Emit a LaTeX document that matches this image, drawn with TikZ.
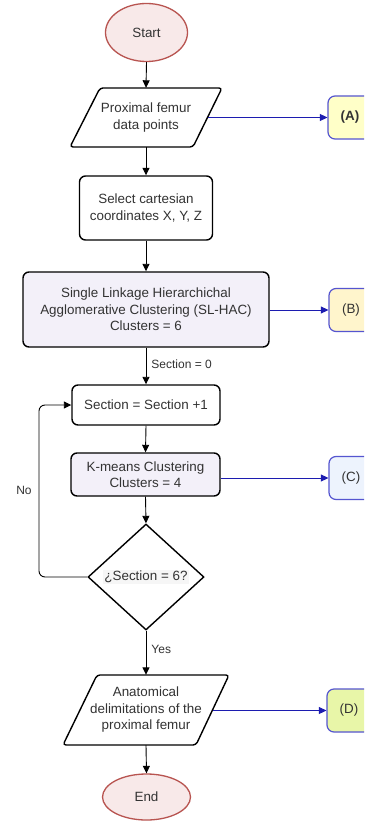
\documentclass[tikz,border=0pt]{standalone}
\usepackage{fontspec}
\setmainfont{Liberation Sans}
\usetikzlibrary{shapes.geometric,arrows.meta}
\definecolor{txt}{HTML}{333333}
\definecolor{pinkfill}{HTML}{F8E9E9}
\definecolor{redline}{HTML}{B85450}
\definecolor{lav}{HTML}{F3F0F9}
\definecolor{afill}{HTML}{FFFFC8}
\definecolor{bfill}{HTML}{FFF5CC}
\definecolor{cfill}{HTML}{EDF3FD}
\definecolor{dfill}{HTML}{E8F6A8}
\definecolor{bborder}{HTML}{5555D0}
\definecolor{bline}{HTML}{1C1CB0}
\tikzset{
  every node/.style={text=txt, font=\fontsize{13.4}{16.5}\selectfont, align=center, inner sep=0pt},
  term/.style={ellipse, draw=redline, fill=pinkfill, line width=1.3pt},
  proc/.style={rectangle, rounded corners=6pt, draw=black, line width=1.4pt, fill=white},
  procl/.style={proc, fill=lav},
  io/.style={draw=none},
  iopath/.style={draw=black, line width=1.4pt, fill=white, rounded corners=3pt},
  dec/.style={diamond, draw=black, line width=1.4pt, fill=white},
  side/.style={rectangle, rounded corners=7pt, draw=bborder, line width=1.2pt, minimum width=44pt, minimum height=43pt},
  flow/.style={draw=black, line width=0.9pt, -{Triangle[length=7.5pt,width=7pt]}},
  bflow/.style={draw=bline, line width=0.9pt, -{Triangle[length=7.5pt,width=7pt]}},
  lbl/.style={font=\fontsize{12}{14}\selectfont}
}
\begin{document}
\begin{tikzpicture}[x=1pt,y=-1pt]
\clip (0,0) rectangle (364,821);
\fill[white] (0,0) rectangle (364,821);
% start
\node[term, minimum width=82pt, minimum height=58pt] (start) at (146.5,32.5) {Start};
% input parallelogram
\draw[iopath] (100,88) -- (222,88) -- (193,147) -- (70,147) -- cycle;
\node[io, minimum width=120pt, minimum height=59pt] (in) at (146,117.5) {Proximal femur\\data points};
\coordinate (inr) at (207.5,117.5);
% select
\node[proc, minimum width=133pt, minimum height=64pt] (sel) at (146,208) {Select cartesian\\coordinates X, Y, Z};
% SL-HAC
\node[procl, minimum width=246pt, minimum height=75pt] (hac) at (146,309.5) {Single Linkage Hierarchichal\\Agglomerative Clustering (SL-HAC)\\Clusters = 6};
% section
\node[proc, minimum width=148pt, minimum height=40pt] (sec) at (146,405) {Section = Section +1};
% kmeans
\node[procl, minimum width=149pt, minimum height=43pt] (km) at (145.5,474.5) {K-means Clustering\\Clusters = 4};
% decision
\node[dec, minimum width=116pt, minimum height=106pt] (d) at (146,577) {};
\node[fill=gray!7, inner sep=1pt] (dt) at (146,577) {¿Section = 6?};
% output parallelogram
\draw[iopath] (97,675) -- (229,675) -- (196,745) -- (63,745) -- cycle;
\node[io, minimum width=130pt, minimum height=70pt] (out) at (146,710) {Anatomical\\delimitations of the\\proximal femur};
\coordinate (outr) at (212.5,710.5);
% end
\node[term, minimum width=88pt, minimum height=46pt] (end) at (146.5,797) {End};
% side boxes
\node[side, fill=afill] (A) at (350,117.5) {\bfseries(A)};
\node[side, fill=bfill] (B) at (351,310) {(B)};
\node[side, fill=cfill] (C) at (351,478) {(C)};
\node[side, fill=dfill] (D) at (349,710.5) {(D)};
% flow
\draw[flow] (start.south) -- (in.north);
\draw[flow] (in.south) -- (sel.north);
\draw[flow] (sel.south) -- (hac.north);
\draw[flow] (hac.south) -- node[lbl, right=5pt, pos=0.45] (s0) {Section = 0} (sec.north);
\draw[flow] (sec.south) -- (km.north);
\draw[flow] (km.south) -- (d.north);
\draw[flow] (d.south) -- node[lbl, right=5pt, pos=0.42] (yes) {Yes} (out.north);
\draw[flow] (out.south) -- (end.north);
\coordinate (lx) at (39,490);
\draw[flow, rounded corners=6pt] (d.west) -| (lx) |- (sec.west);
\node[lbl] (no) at (24,490) {No};
% side flows
\draw[bflow] (inr) -- (inr -| A.west);
\draw[bflow] (hac.east |- B.west) -- (B.west);
\draw[bflow] (km.east |- C.west) -- (C.west);
\draw[bflow] (outr) -- (outr -| D.west);
\end{tikzpicture}
\end{document}
